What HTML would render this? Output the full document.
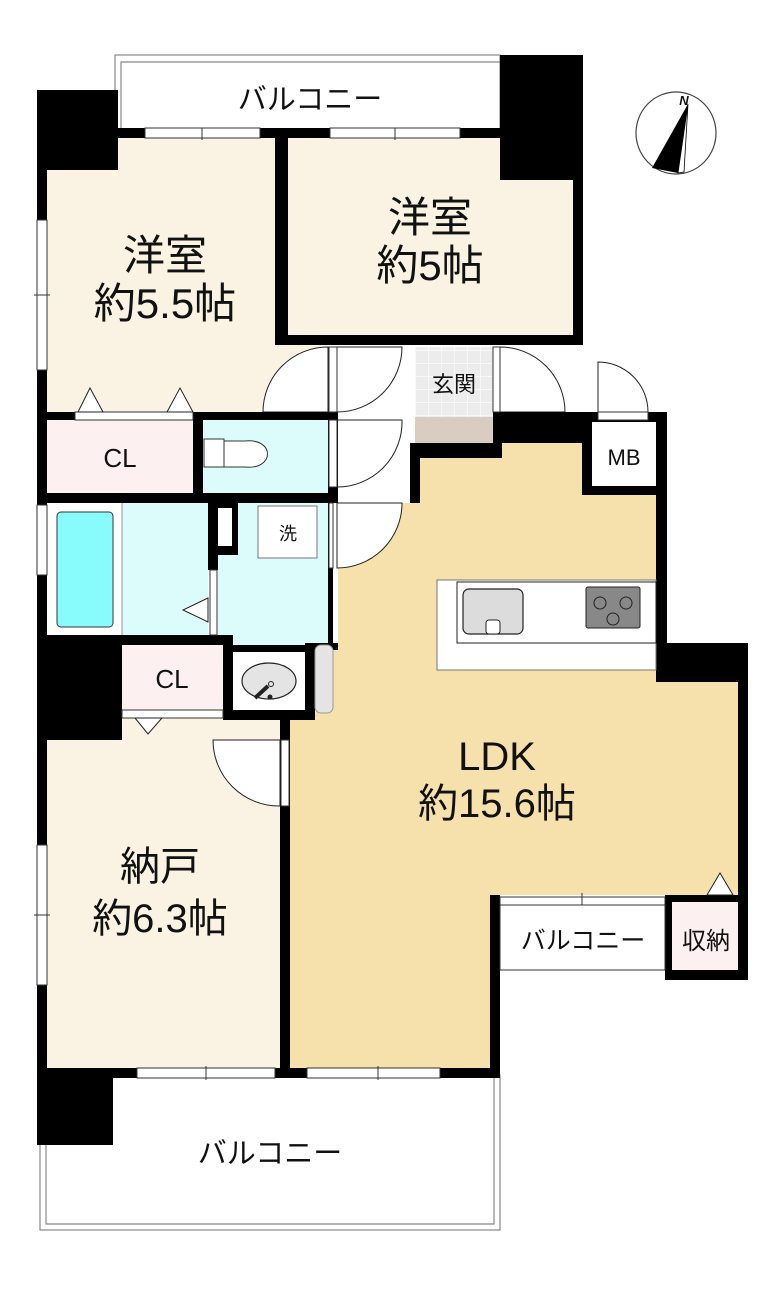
<!DOCTYPE html>
<html><head><meta charset="utf-8"><style>
html,body{margin:0;padding:0;background:#fff}
svg{display:block}
text{font-family:"Liberation Sans","Noto Sans CJK JP",sans-serif;fill:#111}
</style></head><body>
<svg width="779" height="1289" viewBox="0 0 779 1289" xmlns="http://www.w3.org/2000/svg">
<defs>
<pattern id="tile" width="13" height="13" patternUnits="userSpaceOnUse"><rect width="13" height="13" fill="#ececec"/><path d="M13 0V13M0 13H13" stroke="#fff" stroke-width="1.2"/></pattern>
</defs>
<!-- balconies -->
<rect x="115" y="55" width="385" height="80" fill="#fff" stroke="#888" stroke-width="1.2"/>
<path d="M121 135V62H500" fill="none" stroke="#888" stroke-width="1.2"/>
<rect x="40" y="1075" width="460" height="155" fill="#fff" stroke="#888" stroke-width="1.2"/>
<path d="M46 1075V1224H494V1075" fill="none" stroke="#888" stroke-width="1.2"/>
<!-- floors -->
<rect x="47" y="128" width="228" height="285" fill="#faf3e3"/>
<rect x="47" y="345" width="281" height="68" fill="#faf3e3"/>
<rect x="288" y="138" width="290" height="200" fill="#faf3e3"/>
<rect x="47" y="718" width="235" height="352" fill="#faf3e3"/>
<polygon points="420,458 502,458 502,443 582,443 582,495 656,495 656,682 738,682 738,895 500,895 500,1070 290,1070 290,720 315,720 315,645 338,645 338,503 420,503" fill="#f6e0ab"/>
<rect x="415" y="347" width="78" height="70" fill="url(#tile)"/>
<rect x="415" y="417" width="78" height="31" fill="#d9ccc0"/>
<rect x="47" y="420" width="146" height="73" fill="#fdf0f0"/>
<rect x="122" y="645" width="101" height="65" fill="#fdf0f0"/>
<rect x="203" y="420" width="125" height="73" fill="#dcfcfc"/>
<rect x="47" y="503" width="161" height="132" fill="#dcfcfc"/>
<rect x="47" y="503" width="75" height="132" fill="#fff"/>
<rect x="57" y="512" width="56" height="115" rx="4" fill="#88fcfc" stroke="#333" stroke-width="1"/>
<line x1="122" y1="503" x2="122" y2="635" stroke="#999" stroke-width="1"/>
<rect x="218" y="503" width="110" height="142" fill="#dcfcfc"/>
<!-- doors (white pies) -->
<g fill="#fff" stroke="#222" stroke-width="1">
<path d="M328 412V347A65 65 0 0 0 263 412Z"/>
<path d="M500 412V347A65 65 0 0 1 565 412Z"/>
<path d="M598 412V362A50 50 0 0 1 648 412Z"/>
<path d="M337 347H402A65 65 0 0 1 337 412Z"/>
<path d="M337 420H402A65 65 0 0 1 337 487Z"/>
<path d="M337 503H402A65 65 0 0 1 337 568Z"/>
<path d="M280 740H213A66 66 0 0 0 280 806Z"/>
</g>
<!-- walls -->
<g fill="#000">
<rect x="37" y="90" width="10" height="1055"/>
<rect x="37" y="90" width="81" height="80"/>
<rect x="118" y="128" width="382" height="10"/>
<rect x="500" y="55" width="83" height="125"/>
<rect x="573" y="180" width="10" height="165"/>
<rect x="275" y="335" width="308" height="10"/>
<rect x="275" y="128" width="13" height="217"/>
<rect x="493" y="412" width="99" height="31"/>
<rect x="410" y="443" width="92" height="15"/>
<rect x="410" y="443" width="10" height="60"/>
<rect x="582" y="412" width="85" height="83"/>
<rect x="656" y="412" width="11" height="270"/>
<rect x="656" y="643" width="92" height="39"/>
<rect x="738" y="643" width="10" height="337"/>
<rect x="665" y="895" width="83" height="85"/>
<rect x="490" y="895" width="10" height="183"/>
<rect x="37" y="1068" width="463" height="10"/>
<rect x="37" y="1068" width="76" height="77"/>
<rect x="280" y="718" width="10" height="360"/>
<rect x="37" y="412" width="300" height="8"/>
<rect x="193" y="412" width="10" height="91"/>
<rect x="37" y="493" width="301" height="10"/>
<rect x="37" y="635" width="196" height="10"/>
<rect x="37" y="635" width="85" height="105"/>
<rect x="223" y="645" width="92" height="75"/>
<rect x="223" y="710" width="67" height="10"/>
<rect x="208" y="503" width="30" height="52"/>
<rect x="208" y="503" width="10" height="67"/>
<rect x="328" y="412" width="10" height="91"/>
<rect x="328" y="503" width="5" height="142"/>
<rect x="305" y="643" width="33" height="7"/>
</g>
<!-- inner whites over walls -->
<rect x="592" y="422" width="64" height="64" fill="#fff"/>
<rect x="672" y="902" width="66" height="68" fill="#fdf0f0"/>
<rect x="218" y="508" width="14" height="38" fill="#fff"/>
<rect x="233" y="652" width="72" height="58" fill="#fff"/>
<rect x="315" y="645" width="18" height="68" rx="6" fill="#e4e4e4" stroke="#999" stroke-width="1"/>
<!-- door leaves/strips -->
<g fill="#fff" stroke="#333" stroke-width="1">
<rect x="329" y="347" width="8" height="65"/>
<rect x="493" y="347" width="7" height="65"/>
<rect x="598" y="412" width="50" height="8"/>
<rect x="329" y="420" width="8" height="67"/>
<rect x="75" y="412" width="118" height="8"/>
<rect x="122" y="710" width="101" height="8"/>
<rect x="281" y="740" width="8" height="66"/>
<rect x="210" y="570" width="7" height="65"/>
<rect x="329" y="503" width="4" height="65"/>
<rect x="145" y="128" width="115" height="10"/>
<rect x="330" y="128" width="130" height="10"/>
<rect x="137" y="1068" width="138" height="10"/>
<rect x="307" y="1068" width="133" height="10"/>
<rect x="37" y="220" width="10" height="150"/>
<rect x="37" y="505" width="10" height="70"/>
<rect x="37" y="845" width="10" height="140"/>
<rect x="500" y="897" width="165" height="8"/>
<rect x="500" y="905" width="165" height="65"/>
</g>
<g stroke="#333" stroke-width="1">
<line x1="202" y1="128" x2="202" y2="140"/><line x1="395" y1="128" x2="395" y2="140"/>
<line x1="206" y1="1066" x2="206" y2="1080"/><line x1="378" y1="1066" x2="378" y2="1080"/>
<line x1="34" y1="295" x2="50" y2="295"/><line x1="34" y1="915" x2="50" y2="915"/>
<line x1="582" y1="893" x2="582" y2="905"/>
</g>
<!-- triangles -->
<g fill="#fff" stroke="#222" stroke-width="1">
<polygon points="78,412 90,388 103,412"/>
<polygon points="167,412 180,388 193,412"/>
<polygon points="135,718 148,734 162,718"/>
<polygon points="208,598 183,610 208,622"/>
<polygon points="707,895 720,873 733,895"/>
</g>
<!-- toilet -->
<g fill="#fff" stroke="#333" stroke-width="1">
<rect x="204" y="439" width="20" height="28"/>
<path d="M224 441H245C275 438 275 470 245 467H224Z"/>
</g>
<!-- 洗 box -->
<rect x="258" y="506" width="59" height="52" fill="#fff" stroke="#777" stroke-width="1"/>
<!-- basin -->
<ellipse cx="269" cy="681" rx="27" ry="18" fill="#e4e4e4" stroke="#222" stroke-width="1.2"/>
<path d="M255 698L268 686" stroke="#222" stroke-width="4"/>
<circle cx="271" cy="684" r="2.5" fill="none" stroke="#222"/><circle cx="270" cy="697" r="2.5" fill="#222"/>
<!-- kitchen -->
<rect x="437" y="580" width="219" height="90" fill="#fff" stroke="#777" stroke-width="1"/>
<rect x="457" y="582" width="199" height="61" fill="#fff" stroke="#222" stroke-width="1"/>
<rect x="463" y="589" width="60" height="45" rx="6" fill="#dcdcdc" stroke="#222" stroke-width="1.2"/>
<rect x="486" y="620" width="14" height="14" rx="3" fill="#fff" stroke="#222" stroke-width="1"/>
<rect x="586" y="587" width="54" height="41" rx="2" fill="#888" stroke="#222" stroke-width="1"/>
<g fill="none" stroke="#222" stroke-width="1"><circle cx="600" cy="603" r="6"/><circle cx="626" cy="603" r="6"/><circle cx="613" cy="619" r="6"/></g>
<!-- compass -->
<ellipse cx="676" cy="133" rx="40" ry="41" fill="#fff" stroke="#444" stroke-width="1.2"/>
<polygon points="688,104 652,168 678,173" fill="#000"/>
<polygon points="688,104 678,173 684,172" fill="#fff" stroke="#000" stroke-width="0.8"/>
<text x="684" y="105" font-family="Liberation Serif,serif" font-style="italic" font-weight="bold" font-size="13" text-anchor="middle">N</text>
<!-- labels -->
<g text-anchor="middle">
<text x="310" y="109" font-size="29">バルコニー</text>
<text x="165" y="270" font-size="42">洋室</text>
<text x="165" y="318" font-size="42">約5.5帖</text>
<text x="430" y="232" font-size="42">洋室</text>
<text x="430" y="280" font-size="42">約5帖</text>
<text x="454" y="392" font-size="22">玄関</text>
<text x="120" y="467" font-size="26">CL</text>
<text x="624" y="465" font-size="22">MB</text>
<text x="288" y="540" font-size="18">洗</text>
<text x="172" y="688" font-size="26">CL</text>
<text x="497" y="770" font-size="40">LDK</text>
<text x="497" y="817" font-size="40">約15.6帖</text>
<text x="160" y="880" font-size="40">納戸</text>
<text x="160" y="932" font-size="40">約6.3帖</text>
<text x="583" y="949" font-size="25">バルコニー</text>
<text x="706" y="949" font-size="24">収納</text>
<text x="270" y="1163" font-size="29">バルコニー</text>
</g>
</svg>
</body></html>
